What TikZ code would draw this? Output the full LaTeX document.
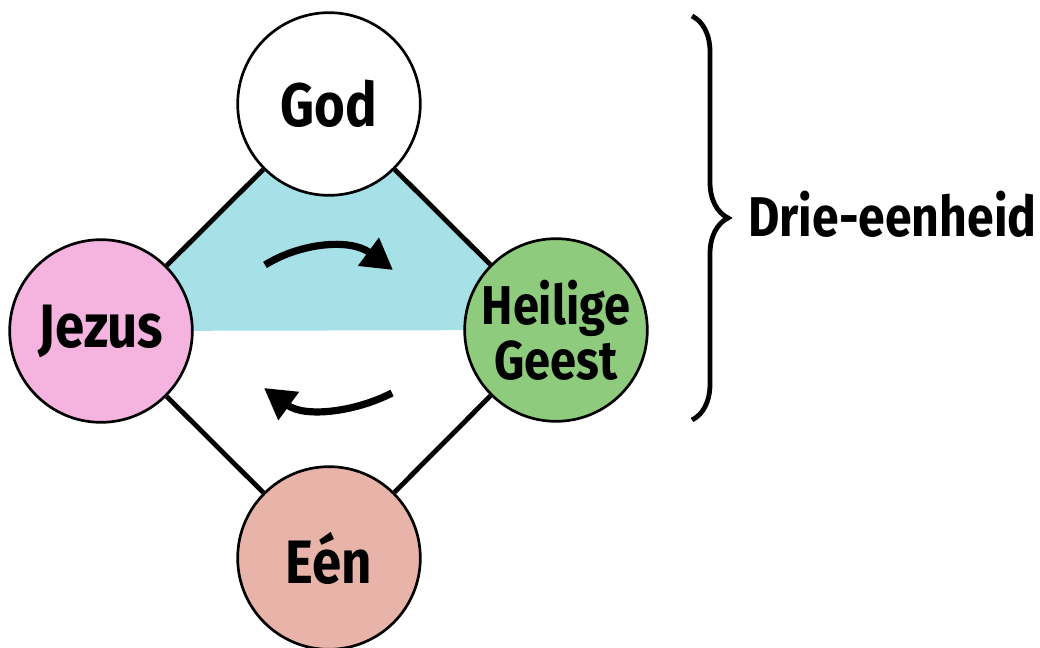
\documentclass[tikz,border=0pt]{standalone}
\usepackage{fontspec}
\setmainfont{Fira Sans}[FakeStretch=0.86]
\usepackage{xcolor}
\usetikzlibrary{positioning, arrows.meta, decorations.pathreplacing, backgrounds}

\definecolor{fillcyan}{HTML}{A6E1E8}
\definecolor{jezuspink}{HTML}{F5B3E0}
\definecolor{geestgreen}{HTML}{8FCB7C}
\definecolor{eenrose}{HTML}{E8B3A8}

\tikzset{
  persoon/.style={circle, draw=black, line width=2pt, minimum size=137pt, inner sep=0pt,
    font=\fontsize{46}{48}\selectfont\bfseries, align=center},
  verband/.style={line width=3.6pt},
  draai/.style={line width=5.4pt, -{Triangle[length=23pt, width=25pt]}}
}

\begin{document}
\begin{tikzpicture}[x=0.75pt, y=-0.75pt]
  \useasboundingbox (0,0) rectangle (1040,648);

  % Four persons on a diamond
  \node[persoon, fill=white] (god) at (329,104) {God};
  \node[persoon, fill=jezuspink] (jezus) at (101,331) {Jezus};
  \node[persoon, fill=geestgreen, font=\fontsize{41}{41}\selectfont\bfseries] (geest) at (556,330) {Heilige\\Geest};
  \node[persoon, fill=eenrose] (een) at (329,558) {Eén};

  % Upper triangle and diamond edges
  \begin{scope}[on background layer]
    \fill[fillcyan] (god.center) -- (jezus.center) -- (geest.center) -- cycle;
    \draw[verband] (god) -- (jezus);
    \draw[verband] (god) -- (geest);
    \draw[verband] (jezus) -- (een);
    \draw[verband] (geest) -- (een);
  \end{scope}

  % Rotation arrows
  \coordinate (boven start) at (265,265);
  \coordinate (boven eind) at (393,270);
  \coordinate (onder start) at (392,393);
  \coordinate (onder eind) at (264,388);
  \draw[draai] (boven start) .. controls (300,243) and (350,238) .. (boven eind);
  \draw[draai] (onder start) .. controls (355,412) and (305,418) .. (onder eind);

  % Brace with label
  \coordinate (accolade boven) at (692,16);
  \coordinate (accolade onder) at (692,420);
  \draw[line width=3.6pt, decorate, decoration={brace, amplitude=27pt}]
    (accolade boven) -- (accolade onder);
  \node[anchor=west, font=\fontsize{42}{44}\selectfont\bfseries, inner sep=0pt] (drie) at (748,214) {Drie-eenheid};
\end{tikzpicture}
\end{document}
